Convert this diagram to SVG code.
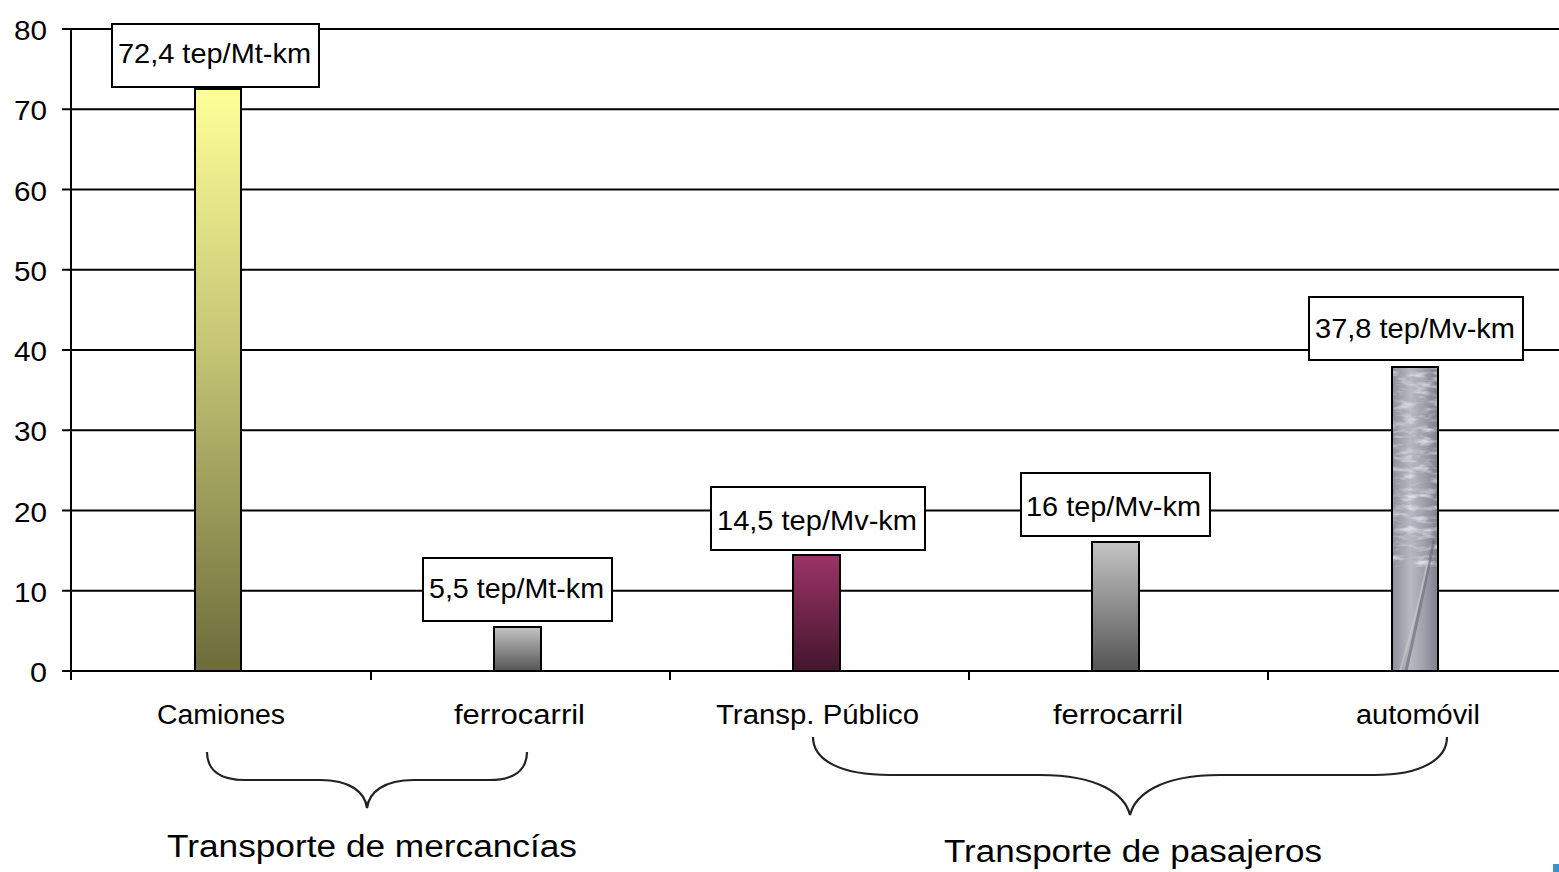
<svg xmlns="http://www.w3.org/2000/svg" width="1559" height="872" viewBox="0 0 1559 872">
<style>
.grid{stroke:#000;stroke-width:2;fill:none}
.ax{stroke:#000;stroke-width:2;fill:none}
.bar{stroke:#000;stroke-width:2}
.box{fill:#fff;stroke:#000;stroke-width:2}
.t{font-family:"Liberation Sans",Arial,sans-serif;fill:#000}
.yl{font-size:28px;text-anchor:end}
.cl{font-size:27px}
.bl{font-size:28px}
.gl{font-size:31px}
.brace{fill:none;stroke:#222;stroke-width:2.2}
</style>
<defs>
<linearGradient id="gY" x1="0" y1="0" x2="0" y2="1">
<stop offset="0" stop-color="#ffff99"/>
<stop offset="0.45" stop-color="#c4c474"/>
<stop offset="1" stop-color="#6c6c3c"/>
</linearGradient>
<linearGradient id="gG" x1="0" y1="0" x2="0" y2="1">
<stop offset="0" stop-color="#c4c4c4"/>
<stop offset="1" stop-color="#555"/>
</linearGradient>
<linearGradient id="gP" x1="0" y1="0" x2="0" y2="1">
<stop offset="0" stop-color="#9b3466"/>
<stop offset="1" stop-color="#44162e"/>
</linearGradient>
<linearGradient id="gA" x1="0" y1="0" x2="1" y2="0">
<stop offset="0" stop-color="#8e8e9c"/>
<stop offset="0.4" stop-color="#b8b8c2"/>
<stop offset="0.7" stop-color="#a0a0ac"/>
<stop offset="1" stop-color="#7e7e8a"/>
</linearGradient>
<filter id="tex" x="0" y="0" width="1" height="1">
<feTurbulence type="fractalNoise" baseFrequency="0.06 0.18" numOctaves="3" seed="7" result="n"/>
<feColorMatrix in="n" type="matrix" values="0 0 0 0 1  0 0 0 0 1  0 0 0 0 1  1.6 0 0 0 -0.75" result="w"/>
<feComposite in="w" in2="SourceGraphic" operator="in"/>
</filter>
<clipPath id="clipA"><rect x="1392" y="367" width="46" height="304"/></clipPath>
</defs>
<rect width="1559" height="872" fill="#fff"/>
<g id="grid">
<line class="grid" x1="62" y1="29" x2="1559" y2="29"/>
<line class="grid" x1="62" y1="109.25" x2="1559" y2="109.25"/>
<line class="grid" x1="62" y1="189.5" x2="1559" y2="189.5"/>
<line class="grid" x1="62" y1="269.75" x2="1559" y2="269.75"/>
<line class="grid" x1="62" y1="350" x2="1559" y2="350"/>
<line class="grid" x1="62" y1="430.25" x2="1559" y2="430.25"/>
<line class="grid" x1="62" y1="510.5" x2="1559" y2="510.5"/>
<line class="grid" x1="62" y1="590.75" x2="1559" y2="590.75"/>
<line class="grid" x1="62" y1="671" x2="1559" y2="671"/>
</g>
<g id="axes">
<line class="ax" x1="71" y1="29" x2="71" y2="680"/>
<line class="ax" x1="371" y1="671" x2="371" y2="680"/>
<line class="ax" x1="670" y1="671" x2="670" y2="680"/>
<line class="ax" x1="969" y1="671" x2="969" y2="680"/>
<line class="ax" x1="1268" y1="671" x2="1268" y2="680"/>
</g>
<g id="ylabels" class="t yl">
<text x="47" y="40" textLength="33" lengthAdjust="spacingAndGlyphs">80</text>
<text x="47" y="120" textLength="33" lengthAdjust="spacingAndGlyphs">70</text>
<text x="47" y="201" textLength="33" lengthAdjust="spacingAndGlyphs">60</text>
<text x="47" y="281" textLength="33" lengthAdjust="spacingAndGlyphs">50</text>
<text x="47" y="361" textLength="33" lengthAdjust="spacingAndGlyphs">40</text>
<text x="47" y="441" textLength="33" lengthAdjust="spacingAndGlyphs">30</text>
<text x="47" y="522" textLength="33" lengthAdjust="spacingAndGlyphs">20</text>
<text x="47" y="602" textLength="33" lengthAdjust="spacingAndGlyphs">10</text>
<text x="47" y="682" textLength="17" lengthAdjust="spacingAndGlyphs">0</text>
</g>
<g id="bar-camiones">
<rect class="bar" x="195" y="89" width="46" height="582" fill="url(#gY)"/>
<rect class="box" x="112" y="24" width="207" height="63"/>
<text class="t bl" x="118" y="63" textLength="193" lengthAdjust="spacingAndGlyphs">72,4 tep/Mt-km</text>
</g>
<g id="bar-ferrocarril-m">
<rect class="bar" x="494" y="627" width="47" height="44" fill="url(#gG)"/>
<rect class="box" x="423" y="558" width="189" height="63"/>
<text class="t bl" x="429" y="598" textLength="175" lengthAdjust="spacingAndGlyphs">5,5 tep/Mt-km</text>
</g>
<g id="bar-publico">
<rect class="bar" x="793" y="555" width="47" height="116" fill="url(#gP)"/>
<rect class="box" x="711" y="487" width="214" height="63"/>
<text class="t bl" x="717" y="530" textLength="200" lengthAdjust="spacingAndGlyphs">14,5 tep/Mv-km</text>
</g>
<g id="bar-ferrocarril-p">
<rect class="bar" x="1092" y="542" width="47" height="129" fill="url(#gG)"/>
<rect class="box" x="1021" y="473" width="189" height="63"/>
<text class="t bl" x="1026" y="516" textLength="175" lengthAdjust="spacingAndGlyphs">16 tep/Mv-km</text>
</g>
<g id="bar-automovil">
<rect x="1392" y="367" width="46" height="304" fill="url(#gA)"/>
<g clip-path="url(#clipA)">
<rect x="1392" y="367" width="46" height="200" fill="#fff" filter="url(#tex)"/>
<path d="M1434 540 Q1422 600 1406 671" stroke="#70707c" stroke-width="3" fill="none" opacity="0.7"/>
<path d="M1428 560 Q1418 610 1400 671" stroke="#c8c8d0" stroke-width="2" fill="none" opacity="0.7"/>
</g>
<rect class="bar" x="1392" y="367" width="46" height="304" fill="none"/>
<rect class="box" x="1309" y="297" width="214" height="63"/>
<text class="t bl" x="1315" y="338" textLength="200" lengthAdjust="spacingAndGlyphs">37,8 tep/Mv-km</text>
</g>
<g id="categories" class="t cl">
<text x="157" y="724" textLength="128" lengthAdjust="spacingAndGlyphs">Camiones</text>
<text x="454" y="724" textLength="131" lengthAdjust="spacingAndGlyphs">ferrocarril</text>
<text x="716" y="724" textLength="203" lengthAdjust="spacingAndGlyphs">Transp. Público</text>
<text x="1053" y="724" textLength="130" lengthAdjust="spacingAndGlyphs">ferrocarril</text>
<text x="1356" y="724" textLength="124" lengthAdjust="spacingAndGlyphs">automóvil</text>
</g>
<g id="connectors">
<path class="brace" d="M207 752 C207 770 220 780 245 780 L320 780 C350 780 365 792 367 808 C369 792 384 780 414 780 L489 780 C514 780 527 770 527 752"/>
<path class="brace" d="M813 737 C813 760 840 775 890 775 L1040 775 C1100 775 1125 795 1130 815 C1135 795 1160 775 1220 775 L1375 775 C1420 775 1447 760 1447 737"/>
</g>
<g id="groups" class="t gl">
<text x="167" y="857" textLength="410" lengthAdjust="spacingAndGlyphs">Transporte de mercancías</text>
<text x="944" y="862" textLength="378" lengthAdjust="spacingAndGlyphs">Transporte de pasajeros</text>
</g>
<rect x="1553" y="864" width="6" height="8" fill="#3a8fd0"/>
</svg>
